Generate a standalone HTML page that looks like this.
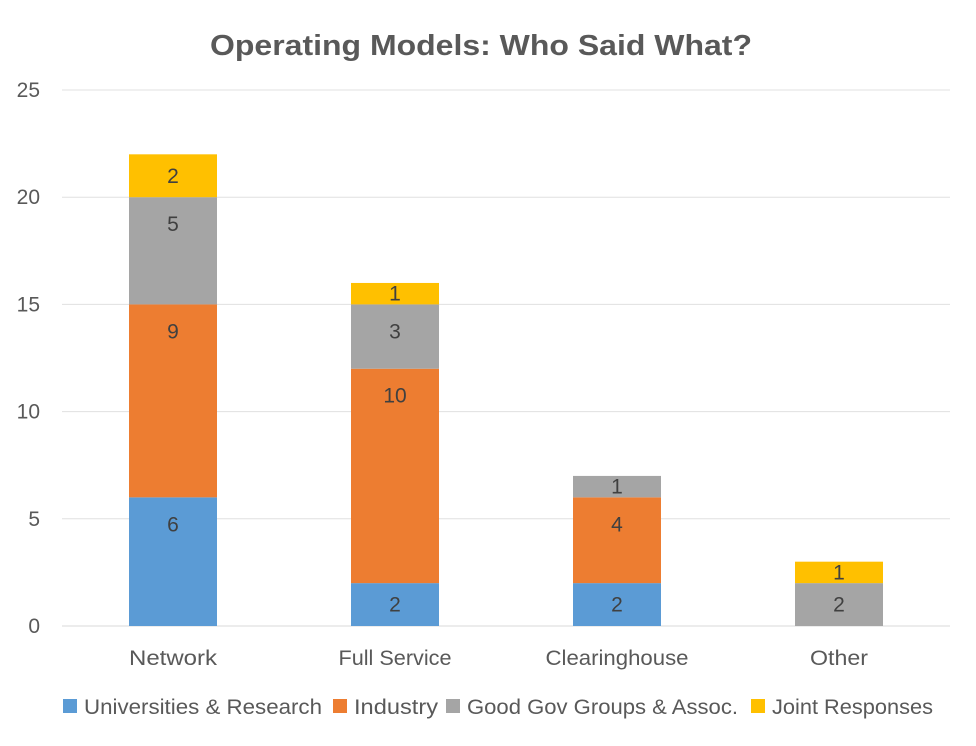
<!DOCTYPE html>
<html><head><meta charset="utf-8"><style>
body{margin:0;background:#fff;font-family:"Liberation Sans",sans-serif;}
svg text{font-family:"Liberation Sans",sans-serif;}
</style></head><body>
<svg width="976" height="741" viewBox="0 0 976 741">
<text x="481" y="55" text-anchor="middle" font-size="29" font-weight="bold" fill="#595959" textLength="542" lengthAdjust="spacingAndGlyphs">Operating Models: Who Said What?</text>
<g id="grid"></g><g id="bars"></g><g id="labels"></g><g id="legend"></g>
</svg>
<script>
const categories=["Network","Full Service","Clearinghouse","Other"];
const universities=[6,2,2,0];
const industry=[9,10,4,0];
const goodGov=[5,3,1,2];
const joint=[2,1,0,1];
const yTicks=[0,5,10,15,20,25];
const seriesNames=["Universities & Research","Industry","Good Gov Groups & Assoc.","Joint Responses"];
const NS="http://www.w3.org/2000/svg";
const colors=["#5b9bd5","#ed7d31","#a5a5a5","#ffc000"];
const catW=[88,113,143,58];
const legX=[63,333,446,751];
const legW=[238,84,271,161];
const y0=626,yTop=90,yMax=25,xL=62,xR=950;
const y=v=>y0-(v/yMax)*(y0-yTop);
const band=(xR-xL)/categories.length;
const xc=i=>xL+band*(i+0.5);
const bw=88;
function mk(tag,attrs,parent){const e=document.createElementNS(NS,tag);for(const k in attrs)e.setAttribute(k,attrs[k]);parent.appendChild(e);return e;}
const grid=document.getElementById('grid');
yTicks.forEach(t=>{
 const l=mk('line',{x1:xL,x2:xR,y1:y(t),y2:y(t),stroke:t===0?'#d9d9d9':'#e0e0e0','stroke-width':1},grid);
 
 
 const tx=mk('text',{x:40,y:y(t)+7,'text-anchor':'end','font-size':21,fill:'#595959'},grid);
 tx.textContent=t;
 
 
});
const bars=document.getElementById('bars');
const series=[universities,industry,goodGov,joint];
categories.forEach((c,i)=>{
 let base=0;
 series.forEach((s,j)=>{
  const v=s[i];
  if(v>0){
   const top=y(base+v),bot=y(base);
   const r=mk('rect',{x:xc(i)-bw/2,y:top,width:bw,height:bot-top,fill:colors[j]},bars);
   
   
   const ly=Math.min((top+bot)/2,top+27);
   const t=mk('text',{x:xc(i),y:ly+7,'text-anchor':'middle','font-size':21,fill:'#404040'},bars);
   t.textContent=v;
   
   
  }
  base+=v;
 });
 const ct=mk('text',{x:xc(i),y:665,'text-anchor':'middle','font-size':21,fill:'#595959',textLength:catW[i],lengthAdjust:'spacingAndGlyphs'},bars);
 ct.textContent=c;
 
 
});
const legend=document.getElementById('legend');
seriesNames.forEach((n,j)=>{
 const r=mk('rect',{x:legX[j],y:699,width:14,height:14,fill:colors[j]},legend);
 
 
 const t=mk('text',{x:legX[j]+21,y:714,'font-size':21,fill:'#595959',textLength:legW[j],lengthAdjust:'spacingAndGlyphs'},legend);
 t.textContent=n;
 
 
});
</script>
</body></html>
